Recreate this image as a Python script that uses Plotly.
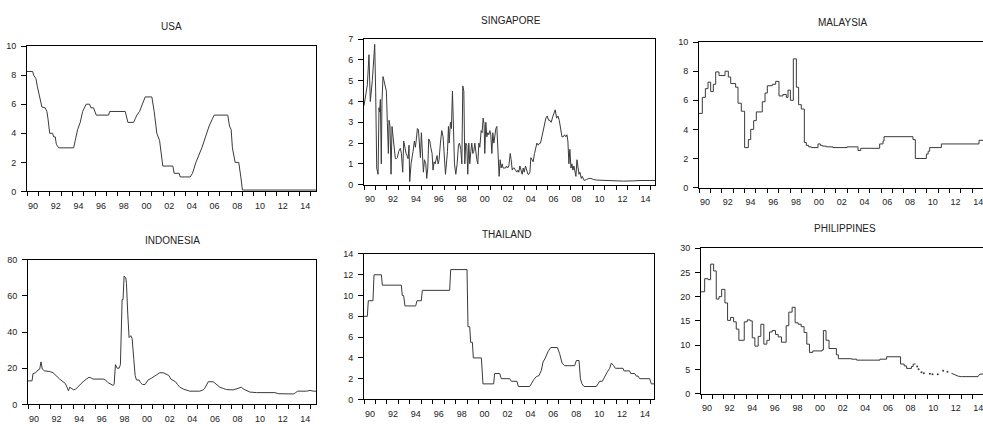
import plotly.graph_objects as go

# Monthly policy / money-market rates, time axis in months elapsed since January 1990.

usa_t = [0, 6, 7, 9.5, 11, 14, 15.8, 19.3, 21, 22.2, 24, 27.1, 28.2, 29.9, 31, 33.5, 49.3, 51, 53.5, 56.3,
         58.8, 62.6, 66.2, 67.6, 70.4, 73.2, 86.3, 87.4, 103.9, 106.7, 112.7, 114.5, 116.2, 119, 122.2, 125,
         132, 134.5, 137.3, 140.2, 143.6, 154.2, 155.6, 160.9, 162, 172.6, 175, 178.6, 184.9, 190.2, 192.6,
         196.1, 197.9, 212.3, 214.1, 215.9, 217.2, 220.1, 223.9, 226.1, 227.8, 305.6]
usa_v = [8.25, 8.25, 8.0, 7.75, 7.2, 6.2, 5.8, 5.75, 5.5, 5.0, 4.0, 4.0, 3.75, 3.75, 3.25, 3.0, 3.0, 3.5, 4.25, 4.75,
         5.5, 6.0, 6.0, 5.75, 5.75, 5.25, 5.25, 5.5, 5.5, 4.75, 4.75, 5.0, 5.25, 5.5, 6.0, 6.5,
         6.5, 5.5, 4.0, 3.5, 1.75, 1.75, 1.25, 1.25, 1.0, 1.0, 1.25, 2.0, 3.0, 4.0, 4.5,
         5.0, 5.25, 5.25, 4.5, 4.25, 3.0, 2.0, 2.0, 1.0, 0.1, 0.1]

sgp_t = [0, 1.7, 3.5, 5.2, 6.6, 8.7, 10.5, 11.2, 12.2, 13.3, 14.7, 15.7, 16.4, 17.1, 18.1, 18.8, 19.9, 20.9, 22.0, 23.4,
         24.4, 25.5, 26.2, 27.2, 28.3, 29.3, 30.4, 31.4, 32.8, 33.9, 34.9, 36.3, 38.0, 39.1, 40.5, 41.5, 42.6, 44.0,
         45.0, 46.1, 47.1, 47.8, 49.2, 50.3, 51.3, 52.7, 53.7, 54.8, 55.8, 56.9, 57.9, 59.0, 60.0, 61.1, 62.1, 63.2,
         64.6, 65.6, 66.7, 67.7, 68.8, 69.8, 71.2, 72.2, 73.3, 74.3, 75.4, 76.4, 77.5, 78.5, 79.9, 81.3, 82.7, 84.1,
         85.2, 86.2, 87.3, 88.3, 89.0, 90.4, 91.4, 92.5, 93.5, 94.6, 96.0, 97.4, 98.8, 99.8, 101.2, 102.3, 103.3,
         104.4, 105.4, 106.4, 107.5, 108.5, 109.6, 110.6, 111.7, 112.7, 113.8, 114.8, 115.9, 116.9, 118.0, 119.0,
         120.1, 121.1, 122.5, 123.5, 124.6, 125.6, 126.3, 127.4, 128.4, 129.5, 130.5, 131.6, 132.6, 133.7, 134.7,
         135.8, 136.8, 137.9, 138.9, 139.9, 141.3, 142.4, 143.4, 144.5, 145.5, 146.9, 148.0, 149.0, 150.1, 151.5,
         152.9, 153.9, 155.0, 156.0, 157.1, 158.4, 159.8, 160.9, 161.9, 163.0, 164.4, 165.4, 166.5, 167.5, 168.9,
         170.3, 171.4, 172.4, 173.5, 174.5, 175.5, 176.9, 178.3, 179.7, 180.8, 182.2, 183.6, 184.6, 186.0, 187.4,
         188.8, 190.2, 191.6, 193.0, 194.4, 195.8, 197.2, 198.6, 200.0, 201.4, 202.8, 204.2, 205.6, 207.0, 208.4,
         209.7, 211.1, 212.2, 213.2, 214.3, 215.3, 216.4, 217.4, 218.5, 219.5, 220.6, 221.6, 222.7, 223.7, 224.8,
         225.8, 227.2, 228.2, 229.3, 230.3, 232.8, 235.2, 237.3, 239.8, 243.3, 250.2, 260.7, 271.2, 281.6, 288.6,
         304.3]
sgp_v = [3.8, 4.3, 4.8, 6.25, 4.0, 5.0, 6.5, 6.75, 4.5, 0.8, 0.5, 3.7, 3.5, 4.1, 1.0, 4.0, 5.2, 5.0, 4.7, 4.5,
         3.0, 1.5, 3.1, 2.8, 0.5, 2.8, 2.3, 1.8, 1.25, 1.25, 1.3, 1.6, 1.75, 1.5, 0.6, 2.1, 1.8, 1.5,
         1.4, 1.25, 1.9, 0.15, 1.0, 1.5, 1.6, 2.1, 1.8, 2.2, 2.7, 2.65, 2.0, 1.3, 2.5, 1.5, 0.6, 1.2,
         1.0, 0.3, 0.8, 2.2, 2.1, 1.8, 1.5, 0.7, 1.1, 1.0, 1.2, 1.4, 1.0, 1.2, 2.0, 2.6, 2.3, 1.0,
         0.5, 1.0, 1.6, 2.8, 2.0, 3.0, 2.7, 4.5, 3.0, 1.0, 0.5, 1.0, 1.9, 2.0, 1.7, 1.0, 4.75,
         4.5, 1.0, 2.0, 1.9, 0.5, 2.0, 1.0, 1.6, 2.0, 1.5, 1.6, 2.0, 1.5, 1.2, 1.0,
         2.0, 1.8, 2.6, 2.5, 3.2, 2.9, 1.5, 3.0, 2.3, 2.5, 2.4, 2.6, 2.4, 1.5, 2.5,
         2.0, 2.5, 2.7, 2.8, 2.0, 0.4, 1.2, 0.8, 1.0, 0.8, 0.8, 0.8, 0.9, 0.8, 0.9,
         1.5, 1.2, 0.7, 0.8, 0.8, 0.7, 0.6, 0.7, 0.6, 0.9, 0.6, 0.5, 0.8, 0.6, 0.9,
         0.6, 0.5, 0.5, 0.6, 1.3, 1.2, 1.1, 1.5, 1.9, 2.0, 1.9, 2.0, 2.0, 2.3, 2.6,
         2.9, 3.2, 3.3, 3.1, 3.1, 3.0, 3.25, 3.4, 3.6, 3.2, 3.3, 3.1, 2.7, 2.3, 2.3,
         2.4, 2.3, 2.4, 2.1, 1.0, 1.7, 0.8, 1.0, 0.7, 0.9, 0.6, 0.4, 1.2, 0.7, 0.5,
         0.6, 0.3, 0.4, 0.25, 0.2, 0.25, 0.3, 0.3, 0.25, 0.22, 0.2, 0.17, 0.17, 0.18, 0.2,
         0.2]

# Malaysia, Philippines: step series given as (month the rate takes effect, rate)
mys_t = [0, 3.5, 6.7, 9.5, 12.3, 15.1, 17.6, 21.1, 27.4, 30.9, 33.4, 38.6, 41.1, 44.6, 48.1, 52.0, 54.5, 57.6,
         60.4, 66.7, 69.6, 72.0, 77.3, 80.8, 84.3, 88.5, 92.0, 93.8, 96.3, 99.4, 102.6, 105.0, 107.8, 111.0,
         113.1, 115.6, 118.4, 125.4, 127.9, 130.0, 134.2, 141.2, 156.0, 167.6, 170.4, 190.4, 193.9, 195.0,
         225.5, 228.0, 239.6, 241.5, 243.1, 255.4, 295.1, 306]
mys_v = [5.1, 6.2, 6.8, 7.25, 6.6, 7.1, 7.95, 7.7, 8.0, 7.6, 7.15, 6.9, 5.8, 5.25, 2.75, 3.3, 4.0, 4.6,
         5.2, 5.9, 6.5, 7.0, 7.1, 7.3, 6.3, 6.4, 6.2, 6.7, 6.0, 8.85, 6.9, 5.7, 5.4, 3.1,
         2.9, 2.8, 2.75, 3.0, 2.9, 2.85, 2.8, 2.75, 2.8, 2.55, 2.7, 3.0, 3.2, 3.5,
         3.3, 2.0, 2.3, 2.5, 2.75, 3.0, 3.25, 3.25]

idn_t = [0, 4.3, 5.3, 8.1, 10.6, 12.4, 13.8, 15.2, 17.7, 23.0, 26.6, 30.1, 33.6, 37.2, 39.7, 41.8, 42.9, 44.3,
         46.0, 48.5, 50.7, 54.9, 58.4, 62.0, 64.8, 67.3, 69.1, 79.7, 82.2, 85.0, 87.8, 90.3, 91.4, 92.8, 94.6,
         96.7, 98.1, 99.9, 100.9, 102.0, 103.8, 104.5, 105.9, 107.3, 109.1, 110.5, 112.3, 113.7, 115.1, 117.9,
         119.4, 121.5, 124.3, 125.7, 127.5, 131.1, 136.4, 139.9, 143.5, 147.0, 149.5, 151.6, 154.1, 156.6,
         158.7, 161.2, 164.7, 168.2, 171.8, 182.4, 186.0, 187.7, 189.5, 191.3, 196.6, 199.4, 203.7, 207.2,
         210.7, 217.8, 223.1, 226.7, 228.5, 232.0, 235.5, 242.6, 253.3, 258.6, 262.1, 265.7, 271.0, 281.6,
         284.1, 286.2, 295.8, 299.3, 302.8, 305.7]
idn_v = [13, 13, 17, 17.5, 19, 19.5, 23.5, 19.5, 18.5, 18.2, 17.5, 15.5, 14, 12.5, 11.5, 9, 7.5, 9.5,
         9, 8, 8.5, 11, 12.5, 14, 15, 14.5, 14, 14, 13.5, 12, 11, 10.5, 11, 22, 20,
         20, 22, 58, 58, 71, 70, 67, 50, 37, 38, 36.5, 25, 16, 13.5, 13.5,
         12, 11, 11, 12.5, 13.5, 14.5, 16.5, 17.5, 17.5, 16.5, 16, 14, 13, 12.5,
         11, 9.5, 8.5, 8, 7.3, 7.3, 8, 9, 11, 12.5, 12.5, 11.5, 9.5, 8.8,
         8.2, 8, 9, 9.5, 8.5, 7.5, 6.8, 6.5, 6.5, 6.75, 6.5, 5.9, 5.75, 5.75,
         6.5, 7.3, 7.3, 7.7, 7.3, 7.3]

tha_t = [0, 3.5, 4.5, 9.4, 10.5, 18.2, 19.2, 39.1, 40.1, 41.5, 42.9, 54.1, 55.5, 60.0, 61.1, 89.7, 90.8, 107.9,
         108.9, 110.7, 111.7, 113.5, 114.5, 122.9, 124.6, 135.8, 136.8, 142.1, 143.8, 152.6, 154.3, 160.2, 161.6,
         173.5, 175.2, 177.7, 180.5, 183.3, 185.7, 187.5, 189.9, 192.7, 195.5, 202.5, 204.9, 207.4, 210.2, 220.6,
         222.4, 225.2, 226.6, 228.3, 230.4, 243.3, 245.1, 246.8, 249.6, 252.0, 254.5, 257.3, 259.0, 261.5, 263.2,
         271.2, 272.3, 278.2, 279.3, 283.5, 285.2, 287.0, 288.7, 299.2, 300.9, 304.4]
tha_v = [8.0, 8.0, 9.5, 9.5, 12.0, 12.0, 11.0, 11.0, 10.0, 10.0, 9.0, 9.0, 9.5, 9.5, 10.5, 10.5, 12.5, 12.5,
         7.0, 7.0, 5.5, 5.5, 4.0, 4.0, 1.5, 1.5, 2.5, 2.5, 2.0, 2.0, 1.75, 1.75, 1.25,
         1.25, 1.5, 1.9, 2.2, 2.3, 2.8, 3.6, 4.0, 4.6, 5.0, 5.0, 4.4, 3.5, 3.25, 3.25,
         3.75, 3.75, 2.0, 1.5, 1.25, 1.25, 1.5, 1.75, 1.75, 2.2, 2.6, 3.0, 3.5, 3.25, 3.0,
         3.0, 2.75, 2.75, 2.5, 2.5, 2.25, 2.25, 2.0, 2.0, 1.5, 1.5]

phl_t = [0, 3.9, 7.4, 10.2, 13.4, 16.2, 19.1, 21.9, 25.4, 28.2, 31.4, 34.6, 37.4, 40.2, 45.9, 49.1, 52.2, 54.4,
         57.2, 60.7, 63.5, 66.7, 69.9, 72.7, 75.5, 79.1, 81.9, 85.4, 90.4, 93.2, 96.7, 99.9, 103.1, 106.3, 109.4,
         112.3, 115.1, 118.6, 128.5, 129.9, 132.7, 135.9, 143.7, 145.8, 159.9, 165.2, 189.9, 197.0, 211.8, 215.7,
         218.2, 223.4, 225.2, 227.7]
phl_v = [21.0, 23.7, 23.5, 26.7, 25.3, 19.5, 20.0, 21.5, 18.7, 15.1, 15.7, 14.8, 13.3, 11.0, 14.8, 15.2, 15.0, 11.5,
         9.8, 11.8, 14.3, 10.2, 11.0, 12.7, 13.0, 12.2, 11.7, 10.6, 14.0, 16.8, 17.8, 14.6, 14.3, 13.8, 12.6,
         10.2, 8.5, 8.8, 9.0, 13.0, 11.0, 9.3, 8.0, 7.2, 7.1, 6.9, 7.1, 7.6, 6.1, 5.7,
         5.2, 5.6, 6.1, 6.1]
# isolated observations between missing months
phl_dot_t = [229.5, 230.9, 234.0, 236.5, 242.9, 245.7, 251.3, 257.0, 261.6]
phl_dot_v = [5.6, 5.0, 4.4, 4.2, 4.1, 4.0, 4.0, 4.7, 4.5]
# continuous tail of the series
phl_tail_t = [265.8, 269.3, 272.9, 276.4, 294.0, 295.8, 305.0]
phl_tail_v = [4.2, 3.9, 3.6, 3.5, 3.5, 4.0, 4.1]

label_years = [1990, 1992, 1994, 1996, 1998, 2000, 2002, 2004, 2006, 2008, 2010, 2012, 2014]
label_text = ["90", "92", "94", "96", "98", "00", "02", "04", "06", "08", "10", "12", "14"]

for a, b in [(usa_t, usa_v), (sgp_t, sgp_v), (mys_t, mys_v), (idn_t, idn_v), (tha_t, tha_v),
             (phl_t, phl_v), (phl_dot_t, phl_dot_v), (phl_tail_t, phl_tail_v)]:
    assert len(a) == len(b), (len(a), len(b))

W, H = 983, 424
LINE = "#3a3a3a"
FONT = "Liberation Sans, Arial, sans-serif"

# panel geometry in pixels: (left, right), (top, bottom)
panels = [
    dict(title="USA", t=usa_t, v=usa_v, shape="linear", ymax=10, dy=2,
         px=(27, 316), py=(42, 191), xend=305.6, right=True, tpos=(171, 22)),
    dict(title="SINGAPORE", t=sgp_t, v=sgp_v, shape="linear", ymax=7, dy=1,
         px=(364, 655), py=(35, 184), xend=304.3, right=True, tpos=(511, 16)),
    dict(title="MALAYSIA", t=mys_t, v=mys_v, shape="hv", ymax=10, dy=2,
         px=(699, 983), py=(38, 187), xend=299.3, right=False, tpos=(843, 18)),
    dict(title="INDONESIA", t=idn_t, v=idn_v, shape="linear", ymax=80, dy=20,
         px=(28, 316), py=(261, 409), xend=305.7, right=True, tpos=(172, 241)),
    dict(title="THAILAND", t=tha_t, v=tha_v, shape="linear", ymax=14, dy=2,
         px=(364, 654), py=(255, 404), xend=303.7, right=True, tpos=(506, 235)),
    dict(title="PHILIPPINES", t=phl_t, v=phl_v, shape="hv", ymax=30, dy=5,
         px=(701, 983), py=(249, 398), xend=299.3, right=False, tpos=(845, 229)),
]

# a tick at the start of every year, labels (every second year) centred within the year
tick_years = list(range(1990, 2016))
tick_months = [(y - 1990) * 12 for y in tick_years]
tick_labels = [label_text[label_years.index(y)] if y in label_years else "" for y in tick_years]

fig = go.Figure()
layout = dict(
    width=W, height=H, autosize=False,
    margin=dict(l=0, r=0, t=0, b=0),
    paper_bgcolor="white", plot_bgcolor="white",
    showlegend=False,
    font=dict(family=FONT, size=9, color="#222"),
    annotations=[],
)

for i, p in enumerate(panels, start=1):
    xa = "x" if i == 1 else f"x{i}"
    ya = "y" if i == 1 else f"y{i}"
    fig.add_trace(go.Scatter(x=p["t"], y=p["v"], mode="lines", xaxis=xa, yaxis=ya,
                             line=dict(color=LINE, width=1, shape=p["shape"]),
                             hoverinfo="skip"))
    if p["title"] == "PHILIPPINES":
        fig.add_trace(go.Scatter(x=phl_dot_t, y=phl_dot_v, mode="markers", xaxis=xa, yaxis=ya,
                                 marker=dict(color=LINE, size=2), hoverinfo="skip"))
        fig.add_trace(go.Scatter(x=phl_tail_t, y=phl_tail_v, mode="lines", xaxis=xa, yaxis=ya,
                                 line=dict(color=LINE, width=1), hoverinfo="skip"))

    x0, x1 = p["px"]
    y0, y1 = p["py"]
    half_year_px = int(round((x1 - x0) / p["xend"] * 6))
    key = "" if i == 1 else str(i)
    layout["xaxis" + key] = dict(
        domain=[x0 / W, x1 / W], range=[0, p["xend"]], anchor=ya,
        showline=True, linecolor="black", linewidth=1, mirror=True,
        showgrid=False, zeroline=False,
        tickmode="array", tickvals=tick_months, ticktext=tick_labels,
        ticks="outside", ticklen=4, tickwidth=1, tickcolor="black",
        ticklabelshift=half_year_px, ticklabelstandoff=2,
        ticklabeloverflow="allow",
        tickangle=0,
        tickfont=dict(family=FONT, size=9, color="#222"),
    )
    layout["yaxis" + key] = dict(
        domain=[1 - y1 / H, 1 - y0 / H], range=[0, p["ymax"]], anchor=xa,
        showline=True, linecolor="black", linewidth=1, mirror=p["right"],
        showgrid=False, zeroline=False,
        tickmode="linear", tick0=0, dtick=p["dy"],
        ticks="outside", ticklen=5, tickwidth=1, tickcolor="black",
        ticklabelstandoff=3,
        tickfont=dict(family=FONT, size=9, color="#222"),
    )
    tx, ty = p["tpos"]
    layout["annotations"].append(dict(
        text=p["title"], x=tx / W, y=1 - ty / H, xref="paper", yref="paper",
        xanchor="center", yanchor="middle", showarrow=False,
        font=dict(family=FONT, size=10, color="#222"),
    ))

fig.update_layout(**layout)
fig.write_html("out.html")
